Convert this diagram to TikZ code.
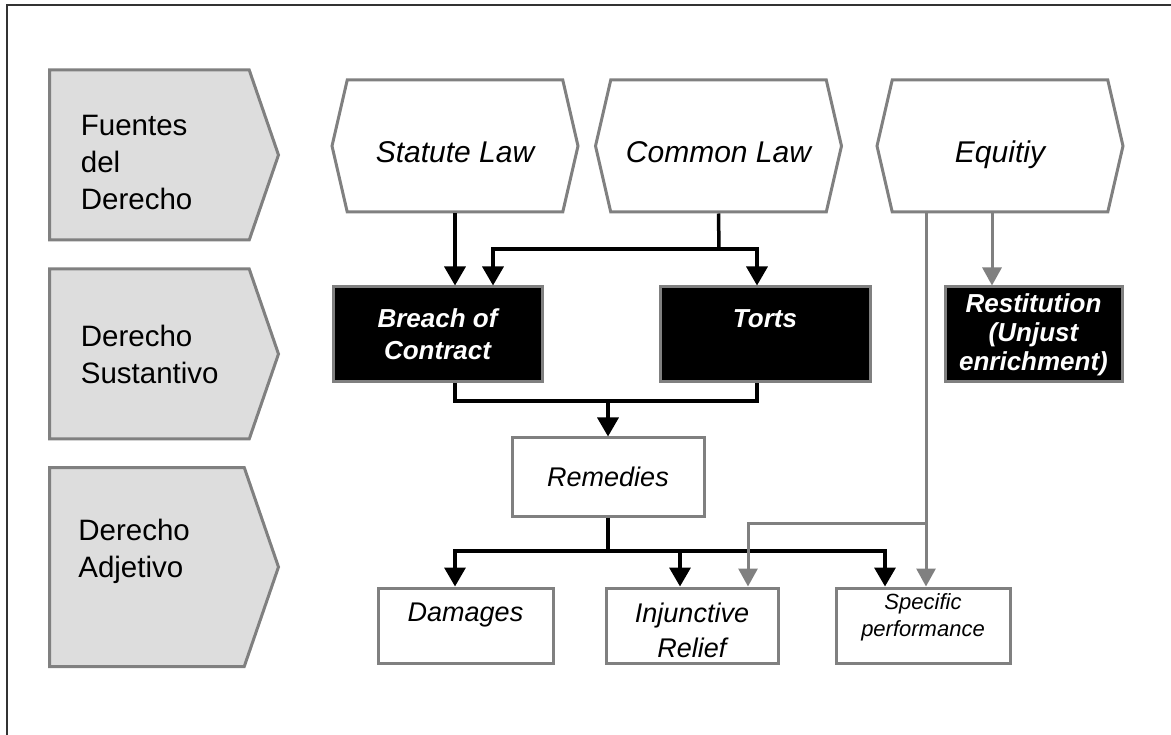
\documentclass[tikz,border=0pt]{standalone}
\usepackage{fontspec}
\setmainfont{Liberation Sans}
\usetikzlibrary{positioning,arrows.meta,shapes.symbols}

\definecolor{shade}{RGB}{221,221,221}
\definecolor{rim}{RGB}{128,128,128}
\definecolor{frame}{RGB}{51,51,51}

\tikzset{
  chevron/.style={signal, signal from=nowhere, signal to=east, signal pointer angle=142,
    draw=rim, fill=shade, line width=3pt, minimum width=229pt, inner sep=0pt,
    align=left, text width=137pt, font=\fontsize{29.5}{37}\selectfont},
  hexa/.style={signal, signal to=east and west, signal pointer angle=154,
    draw=rim, line width=3pt, minimum width=246pt, minimum height=132pt,
    inner sep=0pt, text height=34pt, text depth=0pt,
    font=\fontsize{30}{35}\selectfont\itshape},
  darkbox/.style={rectangle, draw=rim, fill=black, text=white, line width=3pt,
    minimum height=95pt, inner sep=0pt, align=center,
    font=\fontsize{26}{32}\selectfont\bfseries\itshape},
  whitebox/.style={rectangle, draw=rim, fill=white, line width=3pt,
    inner sep=0pt, align=center, font=\fontsize{27}{35}\selectfont\itshape},
  blk/.style={line width=3.5pt, -{Triangle[length=19pt,width=21pt]}},
  blkline/.style={line width=3.5pt},
  gry/.style={draw=rim, line width=3pt, -{Triangle[length=18pt,width=19pt]}},
  gryline/.style={draw=rim, line width=3pt}
}

\begin{document}
\begin{tikzpicture}[x=1pt,y=-1pt]
	\useasboundingbox (0,0) rectangle (1171,735);
	\draw[frame, line width=1.5pt] (7,735) -- (7,5) -- (1171,5);

	% left column
	\node[chevron, minimum height=170pt, anchor=west] (fuentes) at (48,155) {\mbox{}\\[-2pt]Fuentes\\del\\Derecho};
	\node[chevron, minimum height=170pt, anchor=west] (sustantivo) at (48,354) {Derecho\\Sustantivo};
	\node[chevron, minimum height=199pt, anchor=west] (adjetivo) at (48,567) {Derecho\\Adjetivo\\\mbox{}};

	% sources
	\node[hexa] (statute) at (455,146) {Statute Law};
	\node[hexa] (common) at (718.5,146) {Common Law};
	\node[hexa] (equity) at (1000,146) {Equitiy};

	% substantive law
	\node[darkbox, minimum width=209pt] (breach) at (437.5,334.5) {Breach of\\Contract};
	\node[darkbox, minimum width=210pt] (torts) at (765,334.5) {Torts\\\mbox{}};
	\node[darkbox, minimum width=177pt, font=\fontsize{26}{29}\selectfont\bfseries\itshape] (restitution) at (1033.5,334.5) {Restitution\\(Unjust\\enrichment)};

	% remedies
	\node[whitebox, minimum width=192pt, minimum height=78pt] (remedies) at (608,477) {Remedies};
	\node[whitebox, minimum width=175pt, minimum height=75pt] (damages) at (465.5,625.5) {Damages\\[-8pt]\mbox{}};
	\node[whitebox, minimum width=172pt, minimum height=75pt] (injunctive) at (692,625.5) {\mbox{}\\[-6pt]Injunctive\\Relief};
	\node[whitebox, minimum width=174pt, minimum height=75pt, font=\fontsize{22}{27}\selectfont\itshape] (specific) at (923,625.5) {Specific\\performance\\[-7pt]\mbox{}};

	% connectors
	\coordinate (cl) at (719,249);
	\coordinate (bt) at (608,401);
	\coordinate (rj) at (608,551);
	\coordinate (eq) at (926,523);

	\draw[blk] (statute.south) -- (statute.south |- breach.north);
	\draw[blkline] (common.south) -- (cl);
	\draw[blk] (cl) -| ([xshift=55.5pt]breach.north);
	\draw[blk] (cl) -| ([xshift=-8pt]torts.north);

	\draw[blkline] ([xshift=17.5pt]breach.south) |- (bt) -| ([xshift=-8pt]torts.south);
	\draw[blk] (bt) -- (remedies.north);

	\draw[blkline] (remedies.south) -- (rj);
	\draw[blk] (rj) -| ([xshift=-10.5pt]damages.north);
	\draw[blk] (rj) -| ([xshift=-12pt]injunctive.north);
	\draw[blk] (rj) -| ([xshift=-38pt]specific.north);

	\draw[gry] ([xshift=-8pt]equity.south) -- ([xshift=-8pt]equity.south |- restitution.north);
	\draw[gryline] (equity.south -| eq) -- (eq);
	\draw[gry] (eq) -- (eq |- specific.north);
	\draw[gry] (eq) -| ([xshift=56pt]injunctive.north);
\end{tikzpicture}
\end{document}
